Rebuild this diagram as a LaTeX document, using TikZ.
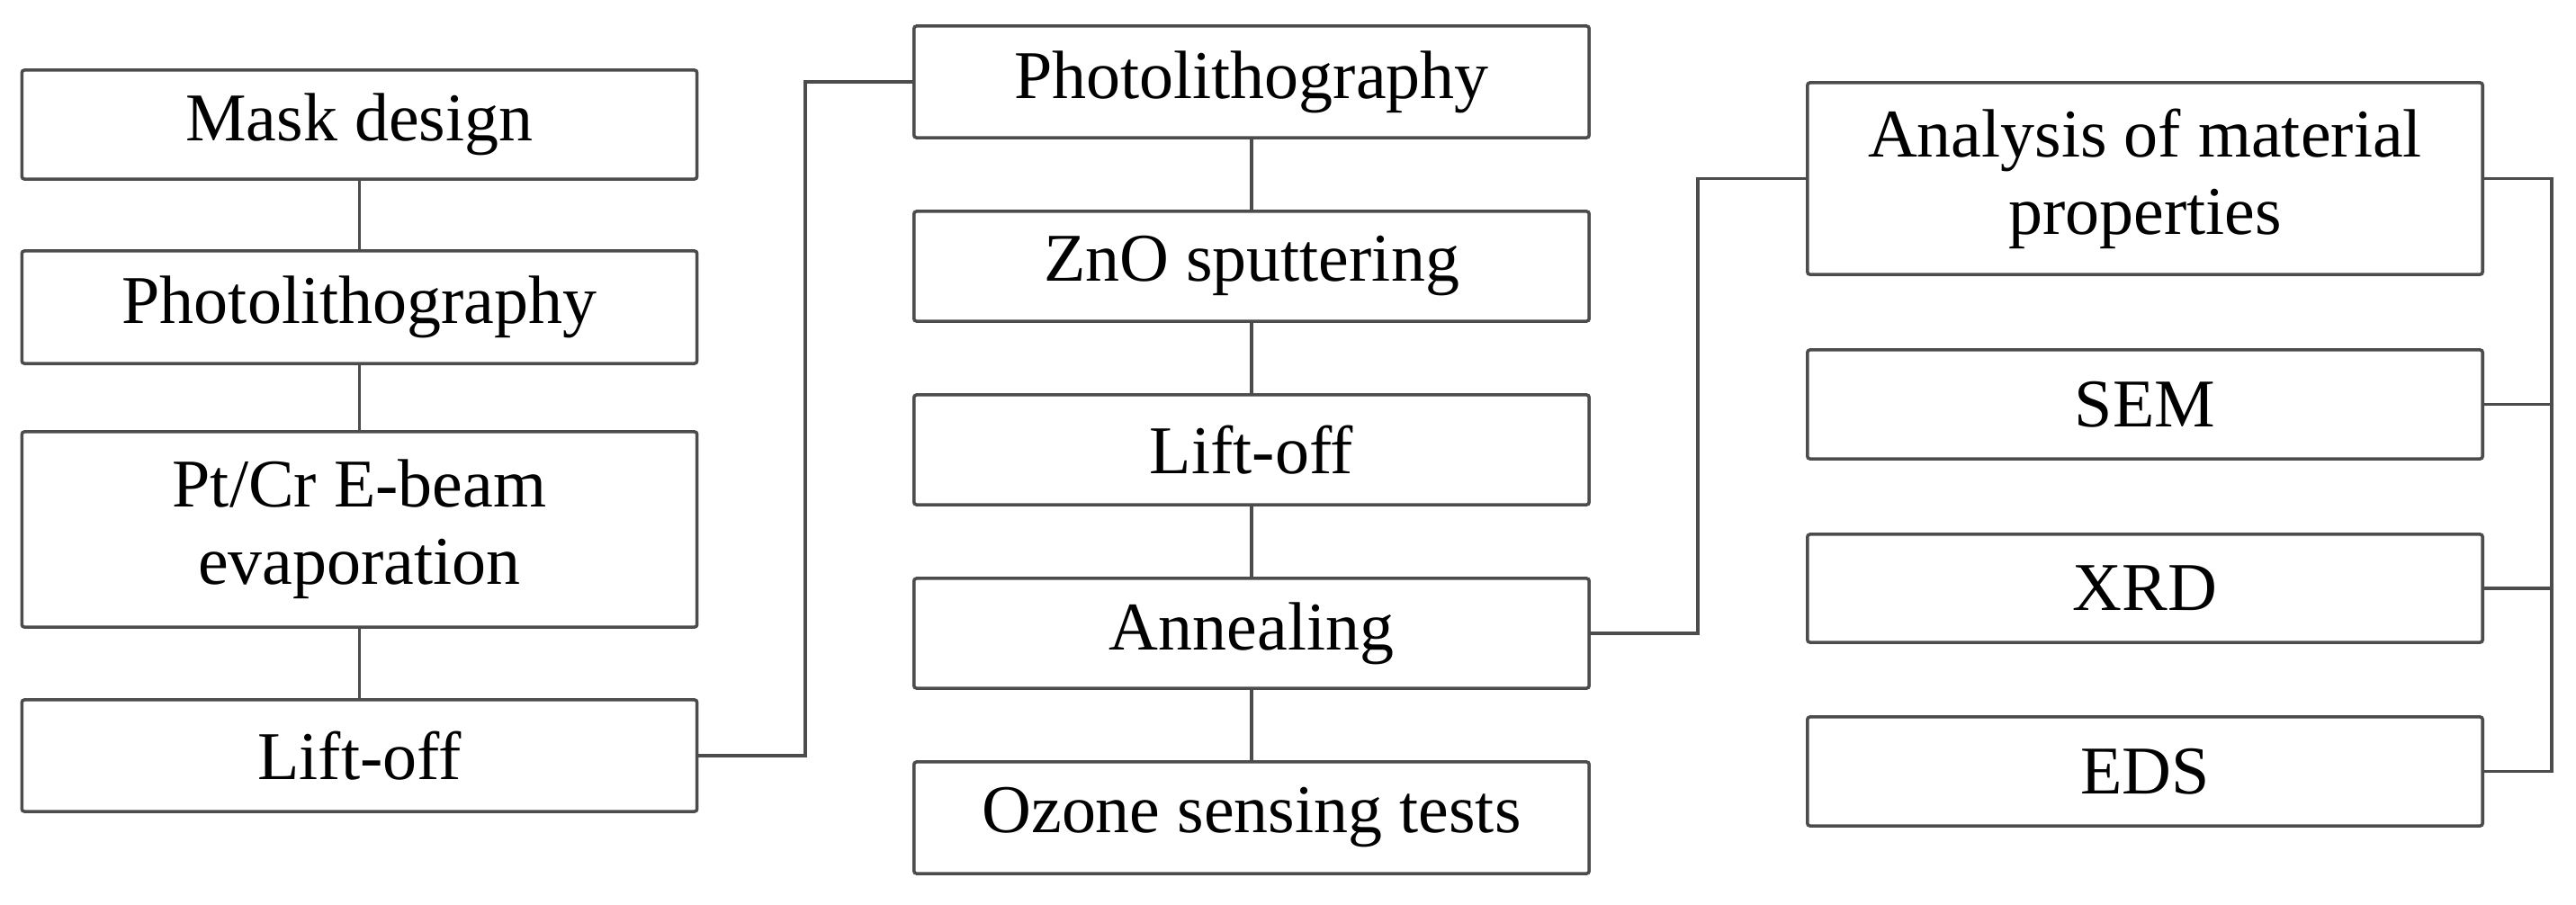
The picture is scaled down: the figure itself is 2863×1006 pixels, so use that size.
\documentclass[tikz,border=0pt]{standalone}
\usepackage{fontspec}
\setmainfont{Liberation Serif}
\begin{document}
\begin{tikzpicture}[x=0.01cm,y=-0.01cm,
  box/.style={draw=black!70, line width=1pt, rounded corners=0.8pt, minimum width=7.5cm, inner sep=0pt, align=center,
    font=\fontsize{21.6pt}{24.5pt}\selectfont},
  link/.style={draw=black!70, line width=1pt}]
\useasboundingbox (0,0) rectangle (2863,1006);
% left column
\node[box, minimum height=1.21cm] (mask) at (399.5,138.5) {Mask design};
\node[box, minimum height=1.25cm] (photoA) at (399.5,341.5) {Photolithography};
\node[box, minimum height=2.17cm] (ptcr) at (399.5,588.5) {Pt/Cr E-beam\\evaporation};
\node[box, minimum height=1.24cm] (liftA) at (399.5,840) {Lift-off};
% middle column
\node[box, minimum height=1.24cm] (photoB) at (1391,91) {Photolithography};
\node[box, minimum height=1.22cm] (zno) at (1391,296) {ZnO sputtering};
\node[box, minimum height=1.22cm] (liftB) at (1391,500) {Lift-off};
\node[box, minimum height=1.22cm] (anneal) at (1391,704) {Annealing};
\node[box, minimum height=1.24cm] (ozone) at (1391,909) {Ozone sensing tests};
% right column
\node[box, minimum height=2.13cm] (anal) at (2384,198.5) {Analysis of material\\properties};
\node[box, minimum height=1.21cm] (sem) at (2384,449.5) {SEM};
\node[box, minimum height=1.20cm] (xrd) at (2384,654) {XRD};
\node[box, minimum height=1.21cm] (eds) at (2384,857.5) {EDS};
% joints
\coordinate (jA) at (895,0);
\coordinate (jB) at (1887,0);
\coordinate (jC) at (2836,0);
% connectors
\draw[link] (mask) -- (photoA);
\draw[link] (photoA) -- (ptcr);
\draw[link] (ptcr) -- (liftA);
\draw[link] (photoB) -- (zno);
\draw[link] (zno) -- (liftB);
\draw[link] (liftB) -- (anneal);
\draw[link] (anneal) -- (ozone);
\draw[link] (liftA.east) -- (jA |- liftA.east) -- (jA |- photoB.west) -- (photoB.west);
\draw[link] (anneal.east) -- (jB |- anneal.east) -- (jB |- anal.west) -- (anal.west);
\draw[link] (anal.east) -- (jC |- anal.east) -- (jC |- eds.east) -- (eds.east);
\draw[link] (sem.east) -- (jC |- sem.east);
\draw[link] (xrd.east) -- (jC |- xrd.east);
\end{tikzpicture}
\end{document}
